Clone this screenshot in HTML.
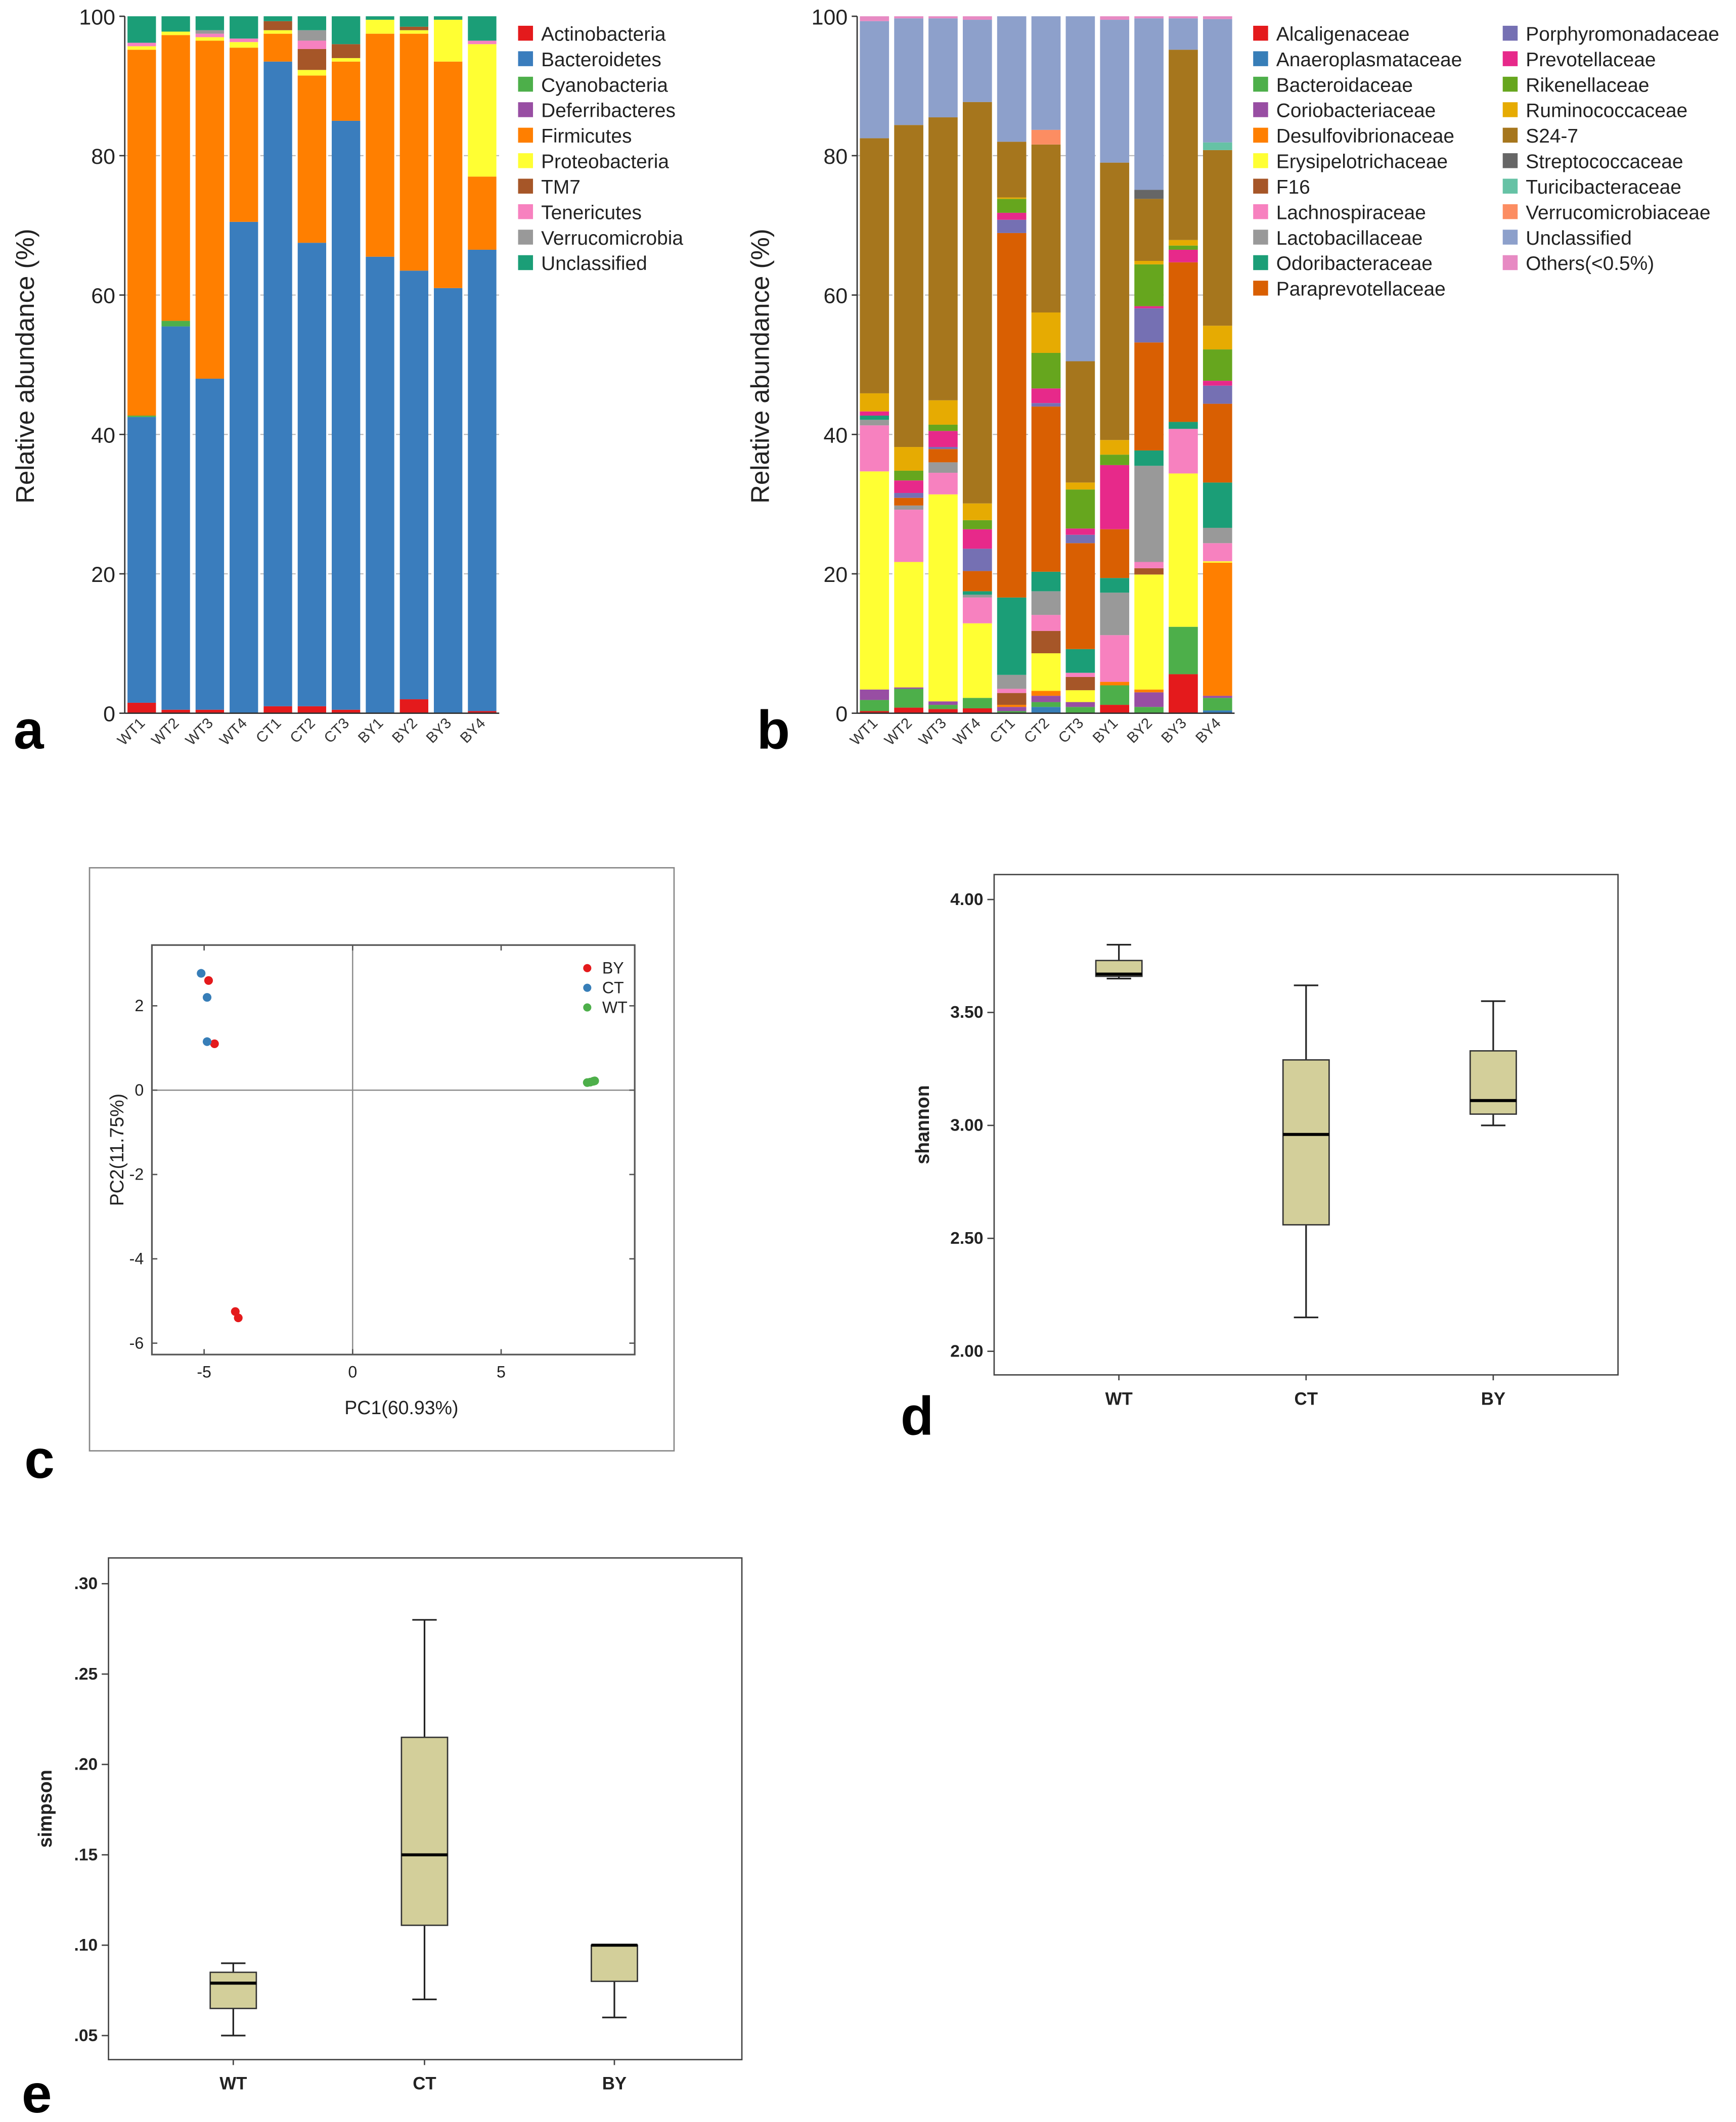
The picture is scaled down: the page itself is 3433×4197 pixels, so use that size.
<!DOCTYPE html>
<html><head><meta charset="utf-8"><style>
html,body{margin:0;padding:0;background:#fff;}
svg{display:block;font-family:"Liberation Sans",Arial,sans-serif;}
</style></head><body>
<svg id="fig" width="3433" height="4197" viewBox="0 0 1280 1565" preserveAspectRatio="none" xmlns="http://www.w3.org/2000/svg">
<rect x="0" y="0" width="1280" height="1565" fill="#fff"/>
<g id="pa"></g>
<g id="pb"></g>
<g id="pc"></g>
<g id="pd"></g>
<g id="pe"></g>
</svg>
<script>
// ---- Panel a data ----
const samples = ["WT1","WT2","WT3","WT4","CT1","CT2","CT3","BY1","BY2","BY3","BY4"];
const phyla = ["Actinobacteria","Bacteroidetes","Cyanobacteria","Deferribacteres","Firmicutes","Proteobacteria","TM7","Tenericutes","Verrucomicrobia","Unclassified"];
const phylaColors = ["#e41a1c","#3a7dbd","#4daf4a","#984ea3","#ff7f00","#ffff33","#a65628","#f781bf","#999999","#1b9e77"];
const actinobacteria = [1.5,0.5,0.5,0,1,1,0.5,0,2,0,0.3];
const bacteroidetes = [41,55,47.5,70.5,92.5,66.5,84.5,65.5,61.5,61,66.2];
const cyanobacteria = [0.2,0.8,0,0,0,0,0,0,0,0,0];
const deferribacteres = [0,0,0,0,0,0,0,0,0,0,0];
const firmicutes = [52.5,41,48.5,25,4,24,8.5,32,34,32.5,10.5];
const proteobacteria = [0.5,0.5,0.5,0.8,0.5,0.8,0.5,2,0.5,6,19];
const tm7 = [0,0,0,0,1.3,3,2,0,0.5,0,0];
const tenericutes = [0.5,0,0.5,0.5,0,1.2,0,0,0,0,0.5];
const verrucomicrobia = [0,0,0.5,0,0,1.5,0,0,0,0,0];
const unclassifiedPhylum = [3.8,2.2,2,3.2,0.7,2,4,0.5,1.5,0.5,3.5];
const phylaSeries = [actinobacteria,bacteroidetes,cyanobacteria,deferribacteres,firmicutes,proteobacteria,tm7,tenericutes,verrucomicrobia,unclassifiedPhylum];
const yTicksPct = [0,20,40,60,80,100];

// ---- Panel b data (per sample, in legend order) ----
const families = ["Alcaligenaceae","Anaeroplasmataceae","Bacteroidaceae","Coriobacteriaceae","Desulfovibrionaceae","Erysipelotrichaceae","F16","Lachnospiraceae","Lactobacillaceae","Odoribacteraceae","Paraprevotellaceae","Porphyromonadaceae","Prevotellaceae","Rikenellaceae","Ruminococcaceae","S24-7","Streptococcaceae","Turicibacteraceae","Verrucomicrobiaceae","Unclassified","Others(<0.5%)"];
const familyColors = ["#e41a1c","#377eb8","#4daf4a","#984ea3","#ff7f00","#ffff33","#a65628","#f781bf","#999999","#1b9e77","#d95f02","#7570b3","#e7298a","#66a61e","#e6ab02","#a6761d","#666666","#66c2a5","#fc8d62","#8da0cb","#e78ac3"];
const famWT1 = [0.3,0,1.6,1.5,0,31.3,0,6.6,0.8,0.6,0,0,0.6,0,2.6,36.6,0,0,0,16.8,0.7];
const famWT2 = [0.8,0,2.7,0.2,0,18.0,0,7.5,0.6,0,1.1,0.7,1.8,1.4,3.4,46.2,0,0,0,15.3,0.3];
const famWT3 = [0.6,0,0.6,0.5,0,29.7,0,3.1,1.5,0,1.9,0.3,2.3,0.9,3.5,40.6,0,0,0,14.2,0.3];
const famWT4 = [0.7,0,1.5,0,0,10.7,0,3.7,0.4,0.5,2.9,3.2,2.8,1.3,2.4,57.6,0,0,0,11.8,0.5];
const famCT1 = [0,0,0.3,0.6,0.3,0,1.7,0.6,2.0,11.1,52.3,1.9,1.0,2.0,0.2,8.0,0,0,0,18.0,0];
const famCT2 = [0,0.9,0.7,0.9,0.7,5.4,3.2,2.3,3.4,2.8,23.7,0.5,2.1,5.1,5.8,24.1,0,0,2.1,16.3,0];
const famCT3 = [0,0,0.9,0.7,0,1.7,1.9,0.6,0,3.4,15.2,1.2,0.9,5.6,1.0,17.4,0,0,0,49.5,0];
const famBY1 = [1.2,0,2.8,0,0.5,0,0,6.7,6.1,2.1,7.0,0,9.2,1.5,2.1,39.8,0,0,0,20.5,0.5];
const famBY2 = [0,0,0.9,2.1,0.4,16.5,0.9,0.9,13.8,2.2,15.5,4.9,0.3,6.0,0.5,8.9,1.3,0,0,24.6,0.3];
const famBY3 = [5.6,0,6.8,0,0,22.0,0,6.4,0,1.0,22.9,0,1.8,0.6,0.8,27.3,0,0,0,4.5,0.3];
const famBY4 = [0,0.4,1.8,0.3,19.1,0.2,0,2.6,2.2,6.5,11.3,2.6,0.7,4.5,3.4,25.2,0,1.1,0,17.7,0.4];
const familySamples = [famWT1,famWT2,famWT3,famWT4,famCT1,famCT2,famCT3,famBY1,famBY2,famBY3,famBY4];

// ---- Panel c data ----
const byPC1 = [-4.85,-4.65,-3.95,-3.85];
const byPC2 = [2.6,1.1,-5.25,-5.4];
const ctPC1 = [-5.1,-4.9,-4.9];
const ctPC2 = [2.77,2.2,1.15];
const wtPC1 = [7.9,8.0,8.1,8.15];
const wtPC2 = [0.18,0.19,0.21,0.22];
const pcXTicks = [-5,0,5];
const pcYTicks = [2,0,-2,-4,-6];

// ---- Panel d/e data ----
const groups = ["WT","CT","BY"];
const shannonMin = [3.65,2.15,3.00];
const shannonQ1 = [3.66,2.56,3.05];
const shannonMed = [3.67,2.96,3.11];
const shannonQ3 = [3.73,3.29,3.33];
const shannonMax = [3.80,3.62,3.55];
const shannonTicks = ["2.00","2.50","3.00","3.50","4.00"];
const simpsonMin = [0.05,0.07,0.06];
const simpsonQ1 = [0.065,0.111,0.08];
const simpsonMed = [0.079,0.15,0.10];
const simpsonQ3 = [0.085,0.215,0.10];
const simpsonMax = [0.09,0.28,0.10];
const simpsonTicks = [".05",".10",".15",".20",".25",".30"];

const NS="http://www.w3.org/2000/svg";
function mk(parent,tag,attrs,text){const e=document.createElementNS(NS,tag);for(const k in attrs)e.setAttribute(k,attrs[k]);if(text!==undefined)e.textContent=text;parent.appendChild(e);return e;}

function stacked(g, x0, barStep, barW, getVals, colors, prefix){
  const yS=v=>526-v*5.14;
  [20,40,60,80].forEach(t=>{const l=mk(g,'line',{x1:x0,x2:x0+barStep*11,y1:yS(t),y2:yS(t),stroke:'#bbb','stroke-width':0.8,'stroke-dasharray':'6,4'});
    
    });
  for(let i=0;i<samples.length;i++){
    const vals=getVals(i);let cum=0;
    const bx=x0+2+i*barStep;
    for(let j=0;j<vals.length;j++){
      const v=vals[j];if(v<=0)continue;
      const r=mk(g,'rect',{x:bx,y:yS(cum+v),width:barW,height:v*5.14,fill:colors[j]});
      
      
      cum+=v;
    }
    const tx=bx+barW/2+3, ty=534;
    const t=mk(g,'text',{x:tx,y:ty,'font-size':11,'text-anchor':'end',fill:'#333',transform:`rotate(-45 ${tx} ${ty})`},samples[i]);
    
    
  }
  const ax=mk(g,'line',{x1:x0,x2:x0,y1:12,y2:526,stroke:'#333','stroke-width':1});
  
  
  const ax2=mk(g,'line',{x1:x0,x2:x0+barStep*11,y1:526,y2:526,stroke:'#333','stroke-width':1});
  
  
  yTicksPct.forEach(t=>{mk(g,'line',{x1:x0-4,x2:x0,y1:yS(t),y2:yS(t),stroke:'#333'});
    const tl=mk(g,'text',{x:x0-7,y:yS(t)+6,'font-size':16,'text-anchor':'end',fill:'#222'},String(t));
    
    });
}

const pa=document.getElementById('pa');
stacked(pa,92,25.1,21,i=>phylaSeries.map(s=>s[i]),phylaColors,'phylum');
let yt=mk(pa,'text',{x:0,y:0,'font-size':19,'text-anchor':'middle',fill:'#222',transform:'translate(25 270) rotate(-90)'},'Relative abundance (%)');


phyla.forEach((p,i)=>{const y=25+i*18.8;
  mk(pa,'rect',{x:382,y:y-6,width:11,height:11,fill:phylaColors[i]});
  const t=mk(pa,'text',{x:399,y:y+5,'font-size':14.5,fill:'#222'},p);
  
  });
let la=mk(pa,'text',{x:10,y:552,'font-size':40,'font-weight':'bold',fill:'#000'},'a');



const pb=document.getElementById('pb');
stacked(pb,632,25.3,21.5,i=>familySamples[i],familyColors,'family');
yt=mk(pb,'text',{x:0,y:0,'font-size':19,'text-anchor':'middle',fill:'#222',transform:'translate(567 270) rotate(-90)'},'Relative abundance (%)');


families.forEach((f,i)=>{const col=i<11?0:1;const r=i<11?i:i-11;const x=col?1108:924;const y=25+r*18.8;
  mk(pb,'rect',{x:x,y:y-6,width:11,height:11,fill:familyColors[i]});
  const t=mk(pb,'text',{x:x+17,y:y+5,'font-size':14.5,fill:'#222'},f);
  
  });
la=mk(pb,'text',{x:558,y:552,'font-size':40,'font-weight':'bold',fill:'#000'},'b');



const pc=document.getElementById('pc');
let fr=mk(pc,'rect',{x:66,y:640,width:431,height:430,fill:'none',stroke:'#888','stroke-width':1});


const cx=v=>260+v*21.9, cy=v=>804-v*31.1;
mk(pc,'rect',{x:112,y:697,width:356,height:302,fill:'none',stroke:'#555','stroke-width':1.2});
mk(pc,'line',{x1:cx(0),x2:cx(0),y1:697,y2:999,stroke:'#888','stroke-width':0.9});
mk(pc,'line',{x1:112,x2:468,y1:cy(0),y2:cy(0),stroke:'#888','stroke-width':0.9});
pcXTicks.forEach(t=>{mk(pc,'line',{x1:cx(t),x2:cx(t),y1:999,y2:995,stroke:'#555'});mk(pc,'line',{x1:cx(t),x2:cx(t),y1:697,y2:701,stroke:'#555'});
  const tl=mk(pc,'text',{x:cx(t),y:1016,'font-size':12,'text-anchor':'middle',fill:'#222'},String(t));
  
  });
pcYTicks.forEach(t=>{mk(pc,'line',{x1:112,x2:116,y1:cy(t),y2:cy(t),stroke:'#555'});mk(pc,'line',{x1:464,x2:468,y1:cy(t),y2:cy(t),stroke:'#555'});
  const tl=mk(pc,'text',{x:106,y:cy(t)+4,'font-size':12,'text-anchor':'end',fill:'#222'},String(t));
  
  });
function pts(xs,ys,color,name){xs.forEach((v,i)=>{const c=mk(pc,'circle',{cx:cx(v),cy:cy(ys[i]),r:3.2,fill:color});
  
  });}
pts(byPC1,byPC2,'#e41a1c','by');pts(ctPC1,ctPC2,'#377eb8','ct');pts(wtPC1,wtPC2,'#4daf4a','wt');
[['BY','#e41a1c'],['CT','#377eb8'],['WT','#4daf4a']].forEach((e,i)=>{const y=714+i*14.5;
  mk(pc,'circle',{cx:433,cy:y,r:3,fill:e[1]});
  const t=mk(pc,'text',{x:444,y:y+4,'font-size':12,fill:'#222'},e[0]);
  
  });
let xt=mk(pc,'text',{x:296,y:1043,'font-size':14,'text-anchor':'middle',fill:'#222'},'PC1(60.93%)');


yt=mk(pc,'text',{x:0,y:0,'font-size':14,'text-anchor':'middle',fill:'#222',transform:'translate(91 848) rotate(-90)'},'PC2(11.75%)');


la=mk(pc,'text',{x:18,y:1090,'font-size':40,'font-weight':'bold',fill:'#000'},'c');



function boxplot(g,fx,fy,fw,fh,ys,ticks,tickVals,xs,mn,q1,md,q3,mx,title,titleX,label,lx,ly,name){
  const f=mk(g,'rect',{x:fx,y:fy,width:fw,height:fh,fill:'none',stroke:'#444','stroke-width':1});
  
  
  ticks.forEach((t,i)=>{const y=ys(tickVals[i]);mk(g,'line',{x1:fx-5,x2:fx,y1:y,y2:y,stroke:'#444'});
    const tl=mk(g,'text',{x:fx-8,y:y+4,'font-size':12.5,'font-weight':'bold','text-anchor':'end',fill:'#222'},t);
    
    });
  groups.forEach((gname,i)=>{const x=xs[i];
    mk(g,'line',{x1:x,x2:x,y1:ys(mx[i]),y2:ys(mn[i]),stroke:'#222','stroke-width':1.2});
    mk(g,'line',{x1:x-9,x2:x+9,y1:ys(mx[i]),y2:ys(mx[i]),stroke:'#222','stroke-width':1.2});
    mk(g,'line',{x1:x-9,x2:x+9,y1:ys(mn[i]),y2:ys(mn[i]),stroke:'#222','stroke-width':1.2});
    const b=mk(g,'rect',{x:x-17,y:ys(q3[i]),width:34,height:Math.max(ys(q1[i])-ys(q3[i]),0.5),fill:'#d3cf9a',stroke:'#333','stroke-width':1});
    
    
    mk(g,'line',{x1:x-17,x2:x+17,y1:ys(md[i]),y2:ys(md[i]),stroke:'#000','stroke-width':2.2});
    mk(g,'line',{x1:x,x2:x,y1:fy+fh,y2:fy+fh+4,stroke:'#444'});
    const tl=mk(g,'text',{x:x,y:fy+fh+22,'font-size':13,'font-weight':'bold','text-anchor':'middle',fill:'#222'},gname);
    
    });
  const t=mk(g,'text',{x:0,y:0,'font-size':14,'font-weight':'bold','text-anchor':'middle',fill:'#222',transform:`translate(${titleX} ${fy+fh/2}) rotate(-90)`},title);
  
  
  const l=mk(g,'text',{x:lx,y:ly,'font-size':40,'font-weight':'bold',fill:'#000'},label);
  
  
}
boxplot(document.getElementById('pd'),733,645,460,369,v=>830-(v-3)*166.6,shannonTicks,shannonTicks.map(Number),[825,963,1101],shannonMin,shannonQ1,shannonMed,shannonQ3,shannonMax,'shannon',685,'d',664,1058,'shannon');
boxplot(document.getElementById('pe'),80,1149,467,370,v=>1168+(0.30-v)*1333,simpsonTicks,simpsonTicks.map(Number),[172,313,453],simpsonMin,simpsonQ1,simpsonMed,simpsonQ3,simpsonMax,'simpson',38,'e',16,1558,'simpson');
</script>
</body></html>
